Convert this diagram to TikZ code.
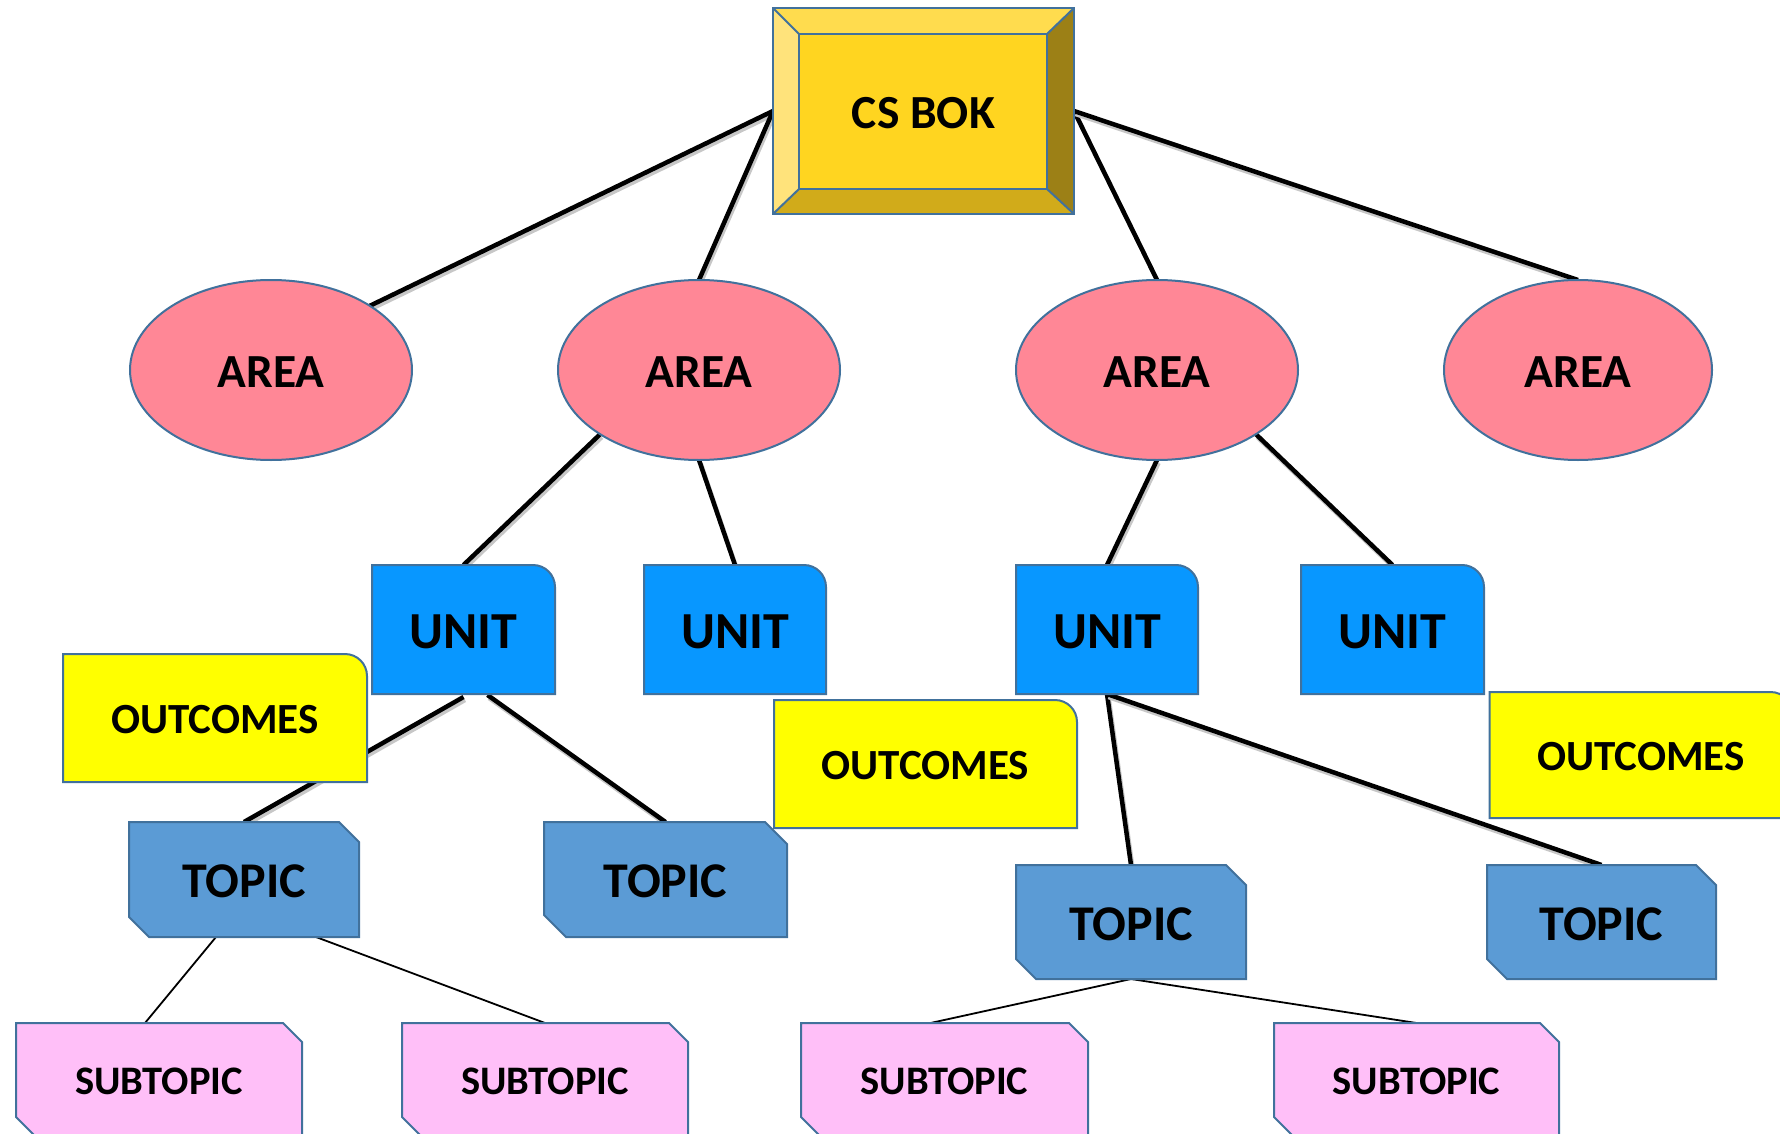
\documentclass[tikz,border=0pt]{standalone}
\usepackage{fontspec}
\setmainfont{Carlito}
\usetikzlibrary{shapes.geometric}
\pgfdeclarelayer{lines}
\pgfdeclarelayer{shapes}
\pgfsetlayers{lines,shapes,main}
\definecolor{edgec}{HTML}{41719C}
\definecolor{areac}{HTML}{FF8796}
\definecolor{unitc}{HTML}{0897FF}
\definecolor{topicc}{HTML}{5B9BD5}
\definecolor{subc}{HTML}{FFBFF8}
\definecolor{outc}{HTML}{FFFF00}
\definecolor{bokface}{HTML}{FFD520}
\definecolor{boktop}{HTML}{FFDC4E}
\definecolor{bokleft}{HTML}{FFE37B}
\definecolor{bokbottom}{HTML}{D1AB1A}
\definecolor{bokright}{HTML}{9C8016}
\tikzset{
  lbl/.style={rectangle, inner sep=0pt, outer sep=0pt,
     execute at begin node={\rule{0pt}{0.74em}},
     font=\bfseries\fontsize{#1}{#1}\selectfont},
  areanode/.style={ellipse, inner sep=0pt, outer sep=0pt, fill=areac, draw=edgec, line width=2pt,
     minimum height=180pt, execute at begin node={\rule{0pt}{0.74em}},
     font=\bfseries\fontsize{47.5}{47.5}\selectfont},
  shapeline/.style={draw=edgec, line width=2pt, line join=miter},
  conn/.style={line width=4.5pt, black,
     preaction={draw=black!22, line width=4.5pt, transform canvas={shift={(1.5pt,-3pt)}}}},
  thin/.style={line width=1.8pt, black},
}
\newcommand\roundtr[3]{%
  \filldraw[fill=#2, shapeline] (#1.south west) -- (#1.north west) -- ([xshift=-#3]#1.north east)
     arc[start angle=90, end angle=0, radius=#3] -- (#1.south east) -- cycle;}
\newcommand\snipped[3]{%
  \filldraw[fill=#2, shapeline] (#1.north west) -- ([xshift=-#3]#1.north east) -- ([yshift=-#3]#1.north east)
     -- (#1.south east) -- ([xshift=#3]#1.south west) -- ([yshift=#3]#1.south west) -- cycle;}
\begin{document}
\begin{tikzpicture}[x=1pt, y=1pt]
\useasboundingbox (0,0) rectangle (1780,-1134);

% ---- nodes (text) ----
\node[lbl=47.5, minimum width=301pt, minimum height=206pt] (CS) at (923.5,-111) {CS BOK};

\node[areanode, minimum width=282pt] (A1) at (271,-370) {AREA};
\node[areanode, minimum width=282pt] (A2) at (699,-370) {AREA};
\node[areanode, minimum width=282pt] (A3) at (1157,-370) {AREA};
\node[areanode, minimum width=268pt] (A4) at (1578,-370) {AREA};

\node[lbl=52, minimum width=183pt, minimum height=129pt] (U1) at (463.5,-629.5) {UNIT};
\node[lbl=52, minimum width=182pt, minimum height=129pt] (U2) at (735,-629.5) {UNIT};
\node[lbl=52, minimum width=182pt, minimum height=129pt] (U3) at (1107,-629.5) {UNIT};
\node[lbl=52, minimum width=183pt, minimum height=129pt] (U4) at (1392.5,-629.5) {UNIT};

\node[lbl=43, minimum width=304pt, minimum height=128pt] (O1) at (215,-718) {OUTCOMES};
\node[lbl=43, minimum width=303pt, minimum height=128pt] (O2) at (925.5,-764) {OUTCOMES};
\node[lbl=43, minimum width=303pt, minimum height=126pt] (O3) at (1641,-755) {OUTCOMES};

\node[lbl=50, minimum width=230pt, minimum height=115pt] (T1) at (244,-879.5) {TOPIC};
\node[lbl=50, minimum width=243pt, minimum height=115pt] (T2) at (665.5,-879.5) {TOPIC};
\node[lbl=50, minimum width=230pt, minimum height=114pt] (T3) at (1131,-922) {TOPIC};
\node[lbl=50, minimum width=229pt, minimum height=114pt] (T4) at (1601.5,-922) {TOPIC};

\node[lbl=40.5, minimum width=286pt, minimum height=113pt] (S1) at (159,-1079.5) {SUBTOPIC};
\node[lbl=40.5, minimum width=286pt, minimum height=113pt] (S2) at (545,-1079.5) {SUBTOPIC};
\node[lbl=40.5, minimum width=287pt, minimum height=113pt] (S3) at (944.5,-1079.5) {SUBTOPIC};
\node[lbl=40.5, minimum width=285pt, minimum height=113pt] (S4) at (1416.5,-1079.5) {SUBTOPIC};

% ---- shapes ----
\begin{pgfonlayer}{shapes}
  % bevel box
  \coordinate (ia) at ([shift={(26pt,-26pt)}]CS.north west);
  \coordinate (ib) at ([shift={(-27pt,-26pt)}]CS.north east);
  \coordinate (ic) at ([shift={(-27pt,25pt)}]CS.south east);
  \coordinate (id) at ([shift={(26pt,25pt)}]CS.south west);
  \fill[boktop] (CS.north west) -- (CS.north east) -- (ib) -- (ia) -- cycle;
  \fill[bokright] (CS.north east) -- (CS.south east) -- (ic) -- (ib) -- cycle;
  \fill[bokbottom] (CS.south east) -- (CS.south west) -- (id) -- (ic) -- cycle;
  \fill[bokleft] (CS.south west) -- (CS.north west) -- (ia) -- (id) -- cycle;
  \fill[bokface] (ia) rectangle (ic);
  \draw[shapeline] (CS.north west) rectangle (CS.south east);
  \draw[shapeline] (ia) rectangle (ic);
  \draw[shapeline] (CS.north west) -- (ia) (CS.north east) -- (ib)
                   (CS.south east) -- (ic) (CS.south west) -- (id);
  % units
  \roundtr{U1}{unitc}{22pt}
  \roundtr{U2}{unitc}{22pt}
  \roundtr{U3}{unitc}{22pt}
  \roundtr{U4}{unitc}{22pt}
  % outcomes
  \roundtr{O1}{outc}{22pt}
  \roundtr{O2}{outc}{22pt}
  \roundtr{O3}{outc}{22pt}
  % topics
  \snipped{T1}{topicc}{20pt}
  \snipped{T2}{topicc}{22pt}
  \snipped{T3}{topicc}{20pt}
  \snipped{T4}{topicc}{20pt}
  % subtopics
  \snipped{S1}{subc}{19pt}
  \snipped{S2}{subc}{19pt}
  \snipped{S3}{subc}{19pt}
  \snipped{S4}{subc}{19pt}
\end{pgfonlayer}

% ---- connectors ----
\begin{pgfonlayer}{lines}
  \draw[conn] (CS.west) -- (A1.33);
  \draw[conn] (CS.west) -- (A2.north);
  \draw[conn] (CS.east) -- (A3.north);
  \draw[conn] (CS.east) -- (A4.north);
  \draw[conn] (A2.213) -- (U1.north);
  \draw[conn] (A2.south) -- (U2.north);
  \draw[conn] (A3.south) -- (U3.north);
  \draw[conn] (A3.-33) -- (U4.north);
  \draw[conn] ([yshift=-3pt]U1.south) -- (T1.north);
  \draw[conn] ([shift={(24pt,-1pt)}]U1.south) -- (T2.north);
  \draw[conn] (U3.south) -- (T3.north);
  \draw[conn] (U3.south) -- (T4.north);
  \draw[thin] ([xshift=-28pt]T1.south) -- ([xshift=-14pt]S1.north);
  \draw[thin] ([xshift=72pt]T1.south) -- (S2.north);
  \draw[thin] (T3.south) -- ([xshift=-14pt]S3.north);
  \draw[thin] (T3.south) -- (S4.north);
\end{pgfonlayer}
\end{tikzpicture}
\end{document}
